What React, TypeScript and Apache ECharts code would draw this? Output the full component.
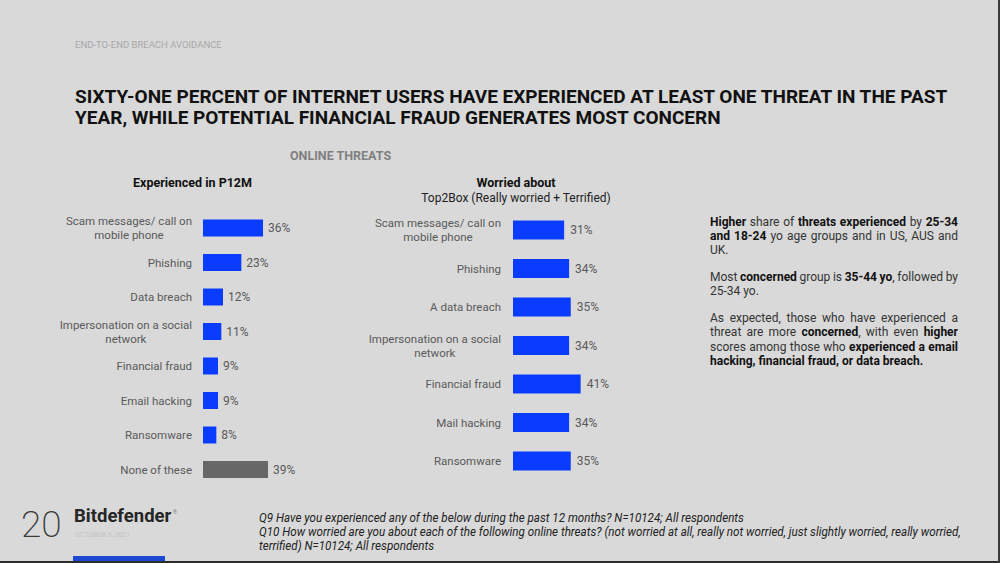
import React, { useEffect, useRef } from "react";
import * as echarts from "echarts";

const expCategories = [
  "Scam messages/ call on\nmobile phone",
  "Phishing",
  "Data breach",
  "Impersonation on a social\nnetwork",
  "Financial fraud",
  "Email hacking",
  "Ransomware",
  "None of these",
];
const expValues = [36, 23, 12, 11, 9, 9, 8, 39];

const worCategories = [
  "Scam messages/ call on\nmobile phone",
  "Phishing",
  "A data breach",
  "Impersonation on a social\nnetwork",
  "Financial fraud",
  "Mail hacking",
  "Ransomware",
];
const worValues = [31, 34, 35, 34, 41, 34, 35];

const headerText = "END-TO-END BREACH AVOIDANCE";
const titleText =
  "SIXTY-ONE PERCENT OF INTERNET USERS HAVE EXPERIENCED AT LEAST ONE THREAT IN THE PAST\nYEAR, WHILE POTENTIAL FINANCIAL FRAUD GENERATES MOST CONCERN";
const sectionText = "ONLINE THREATS";
const leftTitle = "Experienced in P12M";
const rightTitle = "Worried about";
const rightSubtitle = "Top2Box (Really worried + Terrified)";

const noteParagraphs = [
  [
    "**Higher** share of **threats experienced** by **25-34**",
    "**and 18-24** yo age groups and in US, AUS and",
    "UK.",
  ],
  ["Most **concerned** group is **35-44 yo**, followed by", "25-34 yo."],
  [
    "As expected, those who have experienced a",
    "threat are more **concerned**, with even **higher**",
    "scores among those who **experienced a email**",
    "**hacking, financial fraud, or data breach.**",
  ],
];

const footnoteLines = [
  "Q9 Have you experienced any of the below during the past 12 months? N=10124; All respondents",
  "Q10 How worried are you about each of the following online threats? (not worried at all, really not worried, just slightly worried, really worried,",
  "terrified) N=10124; All respondents",
];

const pageNumber = "20";
const brand = "Bitdefender";
const dateText = "OCTOBER 5, 2021";

const BLUE = "#0a3cff";
const GREY_BAR = "#676767";
const LABEL = "#595959";
const FONT = "Roboto";
const CAT_SIZE = 11.5;

let measureCtx: CanvasRenderingContext2D | null = null;
function measure(t: string, bold: boolean, size = 12, italic = false) {
  if (!measureCtx) measureCtx = document.createElement("canvas").getContext("2d");
  measureCtx!.font = `${italic ? "italic " : ""}${bold ? "bold " : ""}${size}px ${FONT}`;
  return measureCtx!.measureText(t).width;
}

type Piece = { t: string; b: boolean };
function parseLine(s: string): Piece[][] {
  const parts = s.split("**");
  const words: Piece[][] = [];
  let cur: Piece[] = [];
  parts.forEach((part, i) => {
    const b = i % 2 === 1;
    const subs = part.split(" ");
    subs.forEach((sub, j) => {
      if (j > 0) {
        if (cur.length) words.push(cur);
        cur = [];
      }
      if (sub) cur.push({ t: sub, b });
    });
  });
  if (cur.length) words.push(cur);
  return words;
}

function buildNoteElements() {
  const els: any[] = [];
  const x0 = 710;
  const W = 248;
  const step = 14.2;
  const paraGap = 12.8;
  let y = 221.5;
  noteParagraphs.forEach((para, pi) => {
    if (pi > 0) y += paraGap;
    para.forEach((line, li) => {
      const justify = li < para.length - 1;
      const words = parseLine(line);
      const widths = words.map((w) => w.reduce((s, p) => s + measure(p.t, p.b), 0));
      const total = widths.reduce((a, b) => a + b, 0);
      const gap = justify && words.length > 1 ? (W - total) / (words.length - 1) : measure(" ", false);
      const str = words
        .map((w) => w.map((p) => `{${p.b ? "b" : "n"}|${p.t}}`).join(""))
        .join("{g| }");
      els.push({
        type: "text",
        x: x0,
        y,
        style: {
          text: str,
          align: "left",
          verticalAlign: "middle",
          rich: {
            n: { fontSize: 12, fontFamily: FONT, fill: "#333333", color: "#333333" },
            b: { fontSize: 12, fontFamily: FONT, fontWeight: "bold", fill: "#111111", color: "#111111" },
            g: { width: gap, fontSize: 12, fontFamily: FONT },
          },
        },
      });
      y += step;
    });
  });
  return els;
}

// Multi-line category labels: centre each line inside the right-aligned block
function makeAxisLabel(cats: string[], margin: number) {
  const rich: any = {
    c: { color: LABEL, fontSize: CAT_SIZE, fontFamily: FONT, lineHeight: 14 },
  };
  cats.forEach((cat, ci) => {
    const lines = cat.split("\n");
    if (lines.length < 2) return;
    const ws = lines.map((l) => measure(l, false, CAT_SIZE));
    const maxW = Math.max(...ws);
    lines.forEach((l, li) => {
      rich[`p${ci}_${li}`] = {
        color: LABEL,
        fontSize: CAT_SIZE,
        fontFamily: FONT,
        lineHeight: 14,
        padding: [0, (maxW - ws[li]) / 2, 0, 0],
      };
    });
  });
  return {
    margin,
    color: LABEL,
    fontSize: CAT_SIZE,
    fontFamily: FONT,
    rich,
    formatter: (v: string, idx: number) => {
      const lines = v.split("\n");
      if (lines.length < 2) return `{c|${v}}`;
      return lines.map((l, li) => `{p${idx}_${li}|${l}}`).join("\n");
    },
  };
}

export default function App() {
  const ref = useRef<HTMLDivElement>(null);
  useEffect(() => {
    if (!ref.current) return;
    const chart = echarts.init(ref.current, null, { renderer: "svg" });
    const txt = (x: number, y: number, text: string, s: any, extra: any = {}) => ({
      type: "text",
      x,
      y,
      ...extra,
      style: { text, fontFamily: FONT, verticalAlign: "middle", align: "left", ...s },
    });
    const footW = measure(footnoteLines[1], false, 12, true);
    const footScale = 702 / footW;
    chart.setOption({
      animation: false,
      backgroundColor: "#d9d9d9",
      grid: [
        { left: 203, top: 210.75, width: 166.7, height: 276, containLabel: false },
        { left: 513, top: 210.75, width: 165, height: 269.5, containLabel: false },
      ],
      xAxis: [
        { type: "value", gridIndex: 0, min: 0, max: 100, show: false },
        { type: "value", gridIndex: 1, min: 0, max: 100, show: false },
      ],
      yAxis: [
        {
          type: "category",
          gridIndex: 0,
          inverse: true,
          data: expCategories,
          axisLine: { show: false },
          axisTick: { show: false },
          splitLine: { show: false },
          axisLabel: makeAxisLabel(expCategories, 11),
        },
        {
          type: "category",
          gridIndex: 1,
          inverse: true,
          data: worCategories,
          axisLine: { show: false },
          axisTick: { show: false },
          splitLine: { show: false },
          axisLabel: makeAxisLabel(worCategories, 12),
        },
      ],
      series: [
        {
          type: "bar",
          xAxisIndex: 0,
          yAxisIndex: 0,
          barWidth: 17,
          data: expValues.map((v, i) => ({
            value: v,
            itemStyle: { color: expCategories[i] === "None of these" ? GREY_BAR : BLUE },
          })),
          label: {
            show: true,
            position: "right",
            distance: 5,
            formatter: "{c}%",
            color: LABEL,
            fontSize: 12,
            fontFamily: FONT,
          },
        },
        {
          type: "bar",
          xAxisIndex: 1,
          yAxisIndex: 1,
          barWidth: 19,
          data: worValues,
          itemStyle: { color: BLUE },
          label: {
            show: true,
            position: "right",
            distance: 6,
            formatter: "{c}%",
            color: LABEL,
            fontSize: 12,
            fontFamily: FONT,
          },
        },
      ],
      graphic: {
        elements: [
          txt(75, 44, headerText, { fontSize: 9.5, fill: "#a8a8a8" }),
          {
            type: "text",
            x: 75,
            y: 85.5,
            style: {
              text: titleText,
              fontFamily: FONT,
              fontSize: 19,
              fontWeight: "bold",
              lineHeight: 21,
              fill: "#111111",
              align: "left",
              verticalAlign: "top",
            },
          },
          txt(290, 155, sectionText, { fontSize: 12.5, fontWeight: "bold", fill: "#808080" }),
          txt(192.5, 182, leftTitle, { fontSize: 12.5, fontWeight: "bold", fill: "#111111", align: "center" }),
          txt(516, 182, rightTitle, { fontSize: 12.5, fontWeight: "bold", fill: "#111111", align: "center" }),
          txt(516, 197.5, rightSubtitle, { fontSize: 12, fill: "#222222", align: "center" }),
          ...buildNoteElements(),
          txt(21, 524, pageNumber, { fontSize: 37, fontWeight: 200, fill: "#3a3a3a" }),
          txt(74, 516, brand, { fontSize: 18.5, fontWeight: "bold", fill: "#262626" }),
          txt(173, 511.5, "®", { fontSize: 5, fill: "#777777" }),
          txt(75, 535, dateText, { fontSize: 7, fill: "#c2c2c2" }),
          ...footnoteLines.map((l, i) =>
            txt(
              259,
              518 + i * 14,
              l,
              {
                fontFamily: FONT,
                fontStyle: "italic",
                fontSize: 12,
                fill: "#222222",
              },
              { scaleX: footScale }
            )
          ),
          { type: "rect", shape: { x: 73, y: 556, width: 92, height: 6 }, style: { fill: "#1f48d2" } },
          { type: "rect", shape: { x: 0, y: 561, width: 1000, height: 2 }, style: { fill: "#2c2c2c" } },
          { type: "rect", shape: { x: 998, y: 0, width: 2, height: 563 }, style: { fill: "#3a3a3a" } },
        ],
      },
    });
    return () => chart.dispose();
  }, []);
  return (
    <div
      ref={ref}
      style={{ position: "fixed", left: 0, top: 0, width: 1000, height: 563, background: "#d9d9d9" }}
    />
  );
}
